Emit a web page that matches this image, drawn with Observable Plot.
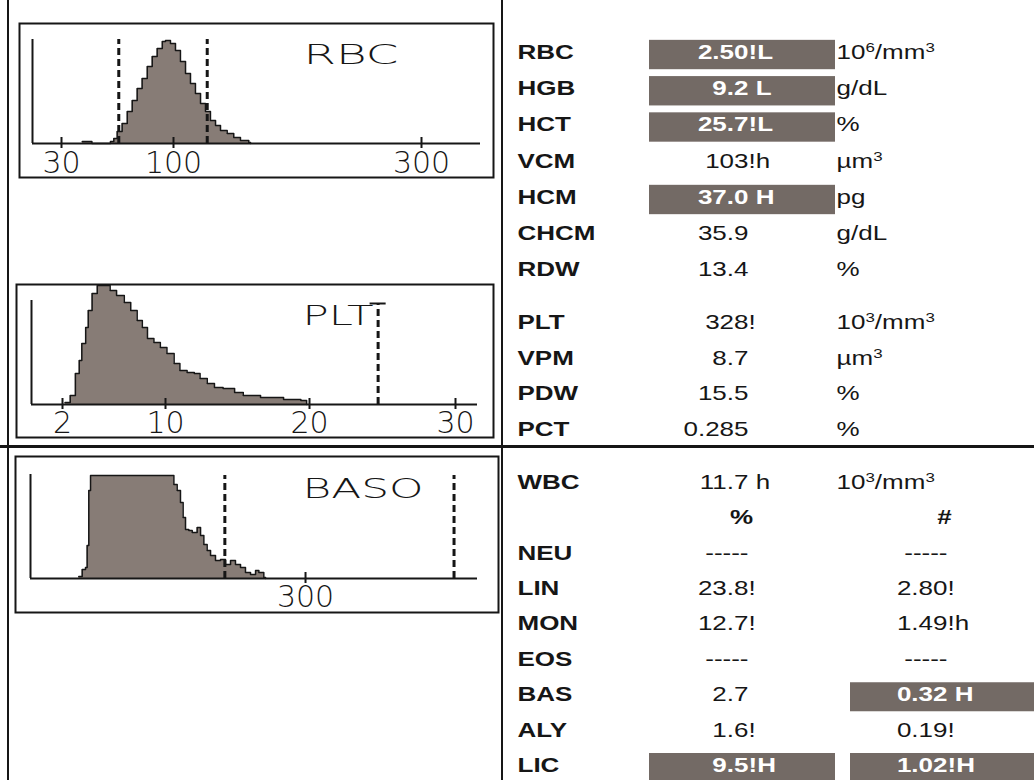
<!DOCTYPE html>
<html><head><meta charset="utf-8">
<script src="https://cdn.jsdelivr.net/npm/d3@7"></script>
<script src="https://cdn.jsdelivr.net/npm/@observablehq/plot@0.6"></script>
<style>
html,body{margin:0;padding:0;background:#fff;}
#page{position:relative;width:1034px;height:780px;overflow:hidden;background:#fff;}
.rule{position:absolute;background:#161616;}
.abs{position:absolute;}
.abs svg{display:block;max-width:none;}
</style></head><body>
<div id="page">
  <div class="rule" style="left:7px;top:0;width:2px;height:780px"></div>
  <div class="rule" style="left:501px;top:0;width:2px;height:780px"></div>
  <div class="rule" style="left:0;top:445px;width:1034px;height:3px"></div>
</div>
<script>
// ---------------- DATA ----------------
// RBC histogram (volume fL, relative count)
const rbcVolume = [43, 49, 60.6, 62.7, 64.8, 67.9, 71.1, 74.2, 77.3, 80.4, 83.6, 86.7, 89.8, 93.0, 95.0, 98.1, 101.6, 105.6, 109.7, 113.7, 117.7, 121.8, 125.8, 129.8, 133.9, 137.9, 143.3, 148.6, 154.0, 160.7, 162.1];
const rbcCount  = [2, 0, 2, 5, 12, 20, 32, 43, 55, 65, 77, 87, 95, 102, 103, 100, 93, 82, 70, 60, 50, 40, 32, 23, 18, 13, 10, 6, 3, 1, 0];
const rbcTicks = [30, 100, 300];
const rbcThresholds = [65.8, 127.2];

// PLT histogram
const pltVolume = [2.2, 2.6, 3.0, 3.3, 3.5, 3.8, 4.0, 4.3, 4.7, 5.2, 5.7, 6.2, 6.8, 7.3, 7.8, 8.2, 8.6, 9.1, 9.6, 10.1, 10.6, 11.0, 11.5, 12.0, 12.4, 12.9, 13.4, 14.0, 14.8, 15.4, 16.6, 17.8, 18.2, 19.4, 19.8];
const pltCount  = [2, 9, 31, 44, 61, 77, 94, 111, 119, 119, 114, 109, 102, 94, 84, 77, 66, 62, 57, 51, 41, 34, 32, 31, 26, 21, 17, 16, 12, 9, 7, 7, 5, 4, 0];
const pltTicks = [2, 10, 20, 30];
const pltThresholds = [24.7];

// BASO histogram
const basoChannel = [52.7, 56.4, 60, 61.8, 63.6, 65.5, 154.5, 156.4, 160, 163.6, 166.5, 169.1, 172.7, 176.4, 181.8, 185.5, 189.1, 192.7, 196.4, 201.8, 207.3, 212.7, 218.2, 223.6, 229.1, 234.5, 240, 245.5, 249.1, 254.5, 256.4];
const basoCount   = [2, 9, 11, 33, 88, 103, 103, 94, 88, 76, 61, 49, 48, 46, 51, 43, 34, 28, 23, 18, 19, 14, 18, 14, 11, 6, 4, 8, 6, 1, 0];
const basoTicks = [300];
const basoThresholds = [212, 462];

// Results table
const rbcLabels = ["RBC", "HGB", "HCT", "VCM", "HCM", "CHCM", "RDW"];
const rbcValues = ["2.50", "9.2", "25.7", "103", "37.0", "35.9", "13.4"];
const rbcFlags  = ["!L", " L", "!L", "!h", " H", "", ""];
const rbcUnits  = ["10⁶/mm³", "g/dL", "%", "µm³", "pg", "g/dL", "%"];

const pltLabels = ["PLT", "VPM", "PDW", "PCT"];
const pltValues = ["328", "8.7", "15.5", "0.285"];
const pltFlags  = ["!", "", "", ""];
const pltUnits  = ["10³/mm³", "µm³", "%", "%"];

const wbcLabel = "WBC";
const wbcValue = "11.7";
const wbcFlag  = " h";
const wbcUnit  = "10³/mm³";
const diffHeaders = ["%", "#"];
const diffLabels   = ["NEU", "LIN", "MON", "EOS", "BAS", "ALY", "LIC"];
const diffPct      = ["-----", "23.8", "12.7", "-----", "2.7", "1.6", "9.5"];
const diffPctFlags = ["", "!", "!", "", "", "!", "!H"];
const diffAbs      = ["-----", "2.80", "1.49", "-----", "0.32", "0.19", "1.02"];
const diffAbsFlags = ["", "!", "!h", "", " H", "!", "!H"];

// ---------------- STYLE / LAYOUT ----------------
const INK = "#161616";
const HIST_FILL = "#877c76";
const BOX_FILL = "#736a65";
const HIST_FONT = "DejaVu Sans, sans-serif";
const TABLE_FONT = "Liberation Sans, Arial, sans-serif";
const Y_TOP = 104;
const page = document.getElementById("page");
const SVGNS = "http://www.w3.org/2000/svg";

function place(node, left, top) {
  const d = document.createElement("div");
  d.className = "abs";
  d.style.left = left + "px";
  d.style.top = top + "px";
  d.appendChild(node);
  page.appendChild(d);
}

function histogram(cfg) {
  const {box, xDomain, xRange, yRange, xs, ys, ticks, thresholds, thresholdTop, cross, title, titleAt, titleWidth, labelDy} = cfg;
  const [bx, by, bw, bh] = box;
  const data = xs.map((x, i) => ({x, y: ys[i]}));
  const x0 = xDomain[0], x1 = xDomain[xDomain.length - 1];
  const marks = [
    Plot.frame({stroke: INK, strokeWidth: 2}),
    Plot.areaY(data, {x: "x", y: "y", curve: "step-after", fill: HIST_FILL}),
    Plot.lineY(data, {x: "x", y: "y", curve: "step-after", stroke: INK, strokeWidth: 1.5}),
    Plot.ruleY([0], {x1: x0, x2: x1, stroke: INK, strokeWidth: 2}),
    Plot.ruleX([x0], {y1: 0, y2: Y_TOP, stroke: INK, strokeWidth: 2}),
    Plot.ruleX(ticks, {y1: -5, y2: 6, stroke: INK, strokeWidth: 2}),
    Plot.ruleX(thresholds, {y1: 0, y2: thresholdTop, stroke: INK, strokeWidth: 3, strokeDasharray: "7,4"}),
    Plot.text(ticks, {x: d => d, y: 0, dy: labelDy, text: d => `${d}`, fontFamily: HIST_FONT, fontSize: 30, fontWeight: 200, fill: INK, lineAnchor: "middle"}),
    Plot.text([title], {frameAnchor: "top-left", dx: titleAt[0], dy: titleAt[1], text: d => d, textAnchor: "start", lineAnchor: "middle", fontFamily: HIST_FONT, fontSize: 27, fontWeight: 200, fill: INK})
  ];
  if (cross) marks.push(Plot.ruleY(thresholds, {y: () => thresholdTop, x1: t => t - cross, x2: t => t + cross, stroke: INK, strokeWidth: 2}));
  const svg = Plot.plot({
    width: bw + 2, height: bh + 2,
    marginLeft: 1, marginRight: 1, marginTop: 1, marginBottom: 1,
    style: "background:transparent;overflow:visible;max-width:none",
    x: {type: "linear", domain: xDomain, range: xRange, axis: null},
    y: {type: "linear", domain: [0, Y_TOP], range: yRange, axis: null},
    marks
  });
  svg.querySelectorAll("text").forEach(t => {
    if (t.textContent === title) {
      t.setAttribute("textLength", titleWidth);
      t.setAttribute("lengthAdjust", "spacingAndGlyphs");
    }
  });
  place(svg, bx - 1, by - 1);
}

histogram({
  box: [19, 23, 474, 154],
  xDomain: [12, 30, 100, 300, 348], xRange: [14, 43, 155, 403, 462], yRange: [121, 17],
  xs: rbcVolume, ys: rbcCount, ticks: rbcTicks, thresholds: rbcThresholds, thresholdTop: Y_TOP,
  title: "RBC", titleAt: [284, 32], titleWidth: 95, labelDy: 20
});
histogram({
  box: [16, 284, 477, 153],
  xDomain: [-0.4, 2, 10, 20, 30, 31.5], xRange: [16, 47, 150, 294, 440, 462], yRange: [121, 17],
  xs: pltVolume, ys: pltCount, ticks: pltTicks, thresholds: pltThresholds, thresholdTop: 101, cross: 0.55,
  title: "PLT", titleAt: [286, 32], titleWidth: 71, labelDy: 19
});
histogram({
  box: [15, 456, 483, 156],
  xDomain: [0, 487.6], xRange: [16, 463], yRange: [123, 19],
  xs: basoChannel, ys: basoCount, ticks: basoTicks, thresholds: basoThresholds, thresholdTop: 103,
  title: "BASO", titleAt: [287, 33], titleWidth: 121, labelDy: 19
});

// ---------------- TABLE ----------------
const COL = {label: 517, numEnd: 748, boxL: 649, boxR: 835, unit: 836, pctHead: 741, absEnd: 947, absBoxL: 850, absBoxR: 1040, absHead: 944};
const TEXT_DY = -2.5;
const STRETCH = 1.3;
const FONT = {fontFamily: TABLE_FONT, fontSize: 20};
const SUP = {"⁶": "6", "³": "3"};
const nb = s => s.replace(/ /g, "\u00a0");
const isHi = f => /[LH]/.test(f);

function superscripts(t) {
  const s = t.textContent;
  if (!/[⁶³]/.test(s)) return;
  t.textContent = "";
  let raised = false;
  for (const ch of s) {
    const sup = SUP[ch];
    const ts = document.createElementNS(SVGNS, "tspan");
    ts.textContent = sup ?? ch;
    if (sup) {
      ts.setAttribute("font-size", "13");
      if (!raised) ts.setAttribute("dy", "-7");
      raised = true;
    } else if (raised) {
      ts.setAttribute("dy", "7");
      raised = false;
    }
    t.appendChild(ts);
  }
}

function valueMarks(rows, numEnd, boxL, boxR) {
  const hi = rows.filter(d => d.hi), lo = rows.filter(d => !d.hi);
  return [
    Plot.barX(hi, {x1: () => boxL, x2: () => boxR, y: "key", fill: BOX_FILL}),
    Plot.text(lo, {x: () => numEnd, y: "key", text: "value", textAnchor: "end", dy: TEXT_DY, fill: INK, ...FONT}),
    Plot.text(lo, {x: () => numEnd, y: "key", text: "flag", textAnchor: "start", dy: TEXT_DY, fill: INK, ...FONT}),
    Plot.text(hi, {x: () => numEnd, y: "key", text: "value", textAnchor: "end", dy: TEXT_DY, fill: "white", fontWeight: "bold", ...FONT}),
    Plot.text(hi, {x: () => numEnd, y: "key", text: "flag", textAnchor: "start", dy: TEXT_DY, fill: "white", fontWeight: "bold", ...FONT})
  ];
}
function labelMarks(rows) {
  return [Plot.text(rows, {x: () => COL.label, y: "key", text: "label", textAnchor: "start", dy: TEXT_DY, fill: INK, fontWeight: "bold", ...FONT})];
}
function unitMarks(rows) {
  return [Plot.text(rows, {x: () => COL.unit, y: "key", text: "unit", textAnchor: "start", dy: TEXT_DY, fill: INK, ...FONT})];
}
function tablePlot(keys, bandRange, padding, marks) {
  const svg = Plot.plot({
    width: 1034, height: 780, margin: 0,
    style: "background:transparent;overflow:visible;max-width:none",
    x: {type: "linear", domain: [0, 1034], range: [0, 1034], axis: null},
    y: {type: "band", domain: keys, range: bandRange, paddingInner: padding, paddingOuter: padding / 2, round: false, axis: null},
    marks
  });
  svg.querySelectorAll("text").forEach(t => {
    t.setAttribute("transform", (t.getAttribute("transform") || "") + ` scale(${STRETCH},1)`);
    superscripts(t);
  });
  place(svg, 0, 0);
}

// block 1: red cells
const rbcRows = rbcLabels.map((label, i) => ({key: label, label, value: rbcValues[i], flag: nb(rbcFlags[i]), unit: rbcUnits[i], hi: isHi(rbcFlags[i])}));
tablePlot(rbcLabels, [36.4, 290.1], 0.19, [
  ...valueMarks(rbcRows, COL.numEnd, COL.boxL, COL.boxR),
  ...labelMarks(rbcRows), ...unitMarks(rbcRows)
]);

// block 2: platelets
const pltRows = pltLabels.map((label, i) => ({key: label, label, value: pltValues[i], flag: nb(pltFlags[i]), unit: pltUnits[i], hi: isHi(pltFlags[i])}));
tablePlot(pltLabels, [306.7, 449.3], 0.19, [
  ...valueMarks(pltRows, COL.numEnd, COL.boxL, COL.boxR),
  ...labelMarks(pltRows), ...unitMarks(pltRows)
]);

// block 3: white cells
const wbcRows = [{key: wbcLabel, label: wbcLabel, value: wbcValue, flag: nb(wbcFlag), unit: wbcUnit, hi: isHi(wbcFlag)}];
const pctRows = diffLabels.map((label, i) => ({key: label, label, value: diffPct[i], flag: nb(diffPctFlags[i]), hi: isHi(diffPctFlags[i])}));
const absRows = diffLabels.map((label, i) => ({key: label, label, value: diffAbs[i], flag: nb(diffAbsFlags[i]), hi: isHi(diffAbsFlags[i])}));
const headAt = [COL.pctHead, COL.absHead];
tablePlot([wbcLabel, "header", ...diffLabels], [466.8, 785.2], 0.18, [
  ...valueMarks(wbcRows, COL.numEnd, COL.boxL, COL.boxR),
  ...valueMarks(pctRows, COL.numEnd, COL.boxL, COL.boxR),
  ...valueMarks(absRows, COL.absEnd, COL.absBoxL, COL.absBoxR),
  ...labelMarks([...wbcRows, ...pctRows]), ...unitMarks(wbcRows),
  Plot.text(diffHeaders, {x: (d, i) => headAt[i], y: () => "header", text: d => d, textAnchor: "middle", dy: TEXT_DY, fill: INK, fontWeight: "bold", ...FONT})
]);
</script>
</body></html>
